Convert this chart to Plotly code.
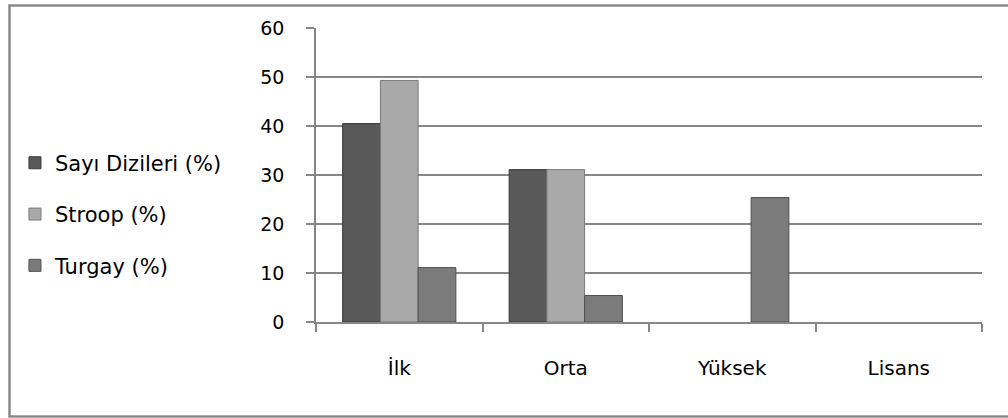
import plotly.graph_objects as go

categories = ["İlk", "Orta", "Yüksek", "Lisans"]
sayi_dizileri = [40.5, 31.1, 0, 0]
stroop = [49.3, 31.1, 0, 0]
turgay = [11.1, 5.4, 25.4, 0]
series_names = ["Sayı Dizileri (%)", "Stroop (%)", "Turgay (%)"]
y_ticks = [0, 10, 20, 30, 40, 50, 60]

colors = ["#595959", "#a9a9a9", "#7b7b7b"]
line_colors = ["#3a3a3a", "#7a7a7a", "#4e4e4e"]

fig = go.Figure()
for i, (name, vals) in enumerate(zip(series_names, [sayi_dizileri, stroop, turgay])):
    fig.add_trace(go.Bar(
        x=categories, y=vals, name=name, legendgroup=f"g{i}",
        marker=dict(color=colors[i],
                    line=dict(color=line_colors[i], width=[1 if v > 0 else 0 for v in vals])),
    ))

FONT = "DejaVu Sans, sans-serif"
fig.update_layout(
    width=1008, height=418,
    margin=dict(l=316, r=26, t=28, b=96),
    paper_bgcolor="white", plot_bgcolor="white",
    barmode="group", bargap=0.32, bargroupgap=0,
    font=dict(family=FONT, size=18, color="#000000"),
    showlegend=True,
    legend=dict(x=-0.452, xanchor="left", y=0.367, yanchor="middle",
                tracegroupgap=21, font=dict(size=21), bgcolor="rgba(0,0,0,0)"),
    xaxis=dict(showline=True, linecolor="#878787", linewidth=1.5,
               ticks="outside", tickson="boundaries", ticklen=8, tickcolor="#878787",
               tickwidth=1.5, ticklabelstandoff=27, showgrid=False,
               tickfont=dict(size=20)),
    yaxis=dict(range=[0, 60], tickvals=y_ticks, showline=True, linecolor="#878787",
               linewidth=1.5, ticks="outside", ticklen=8, tickcolor="#878787", tickwidth=1.5,
               showgrid=True, gridcolor="#878787", gridwidth=1.5, zeroline=False,
               ticklabelstandoff=18, tickfont=dict(size=19)),
    shapes=[dict(type="rect", xref="paper", yref="paper",
                 x0=(9.5 - 316) / 666, x1=(1012 - 316) / 666,
                 y0=(322 - 416.5) / 294, y1=(322 - 5.5) / 294,
                 line=dict(color="#8a8a8a", width=2.5), layer="below")],
)

fig.write_html("out.html")
